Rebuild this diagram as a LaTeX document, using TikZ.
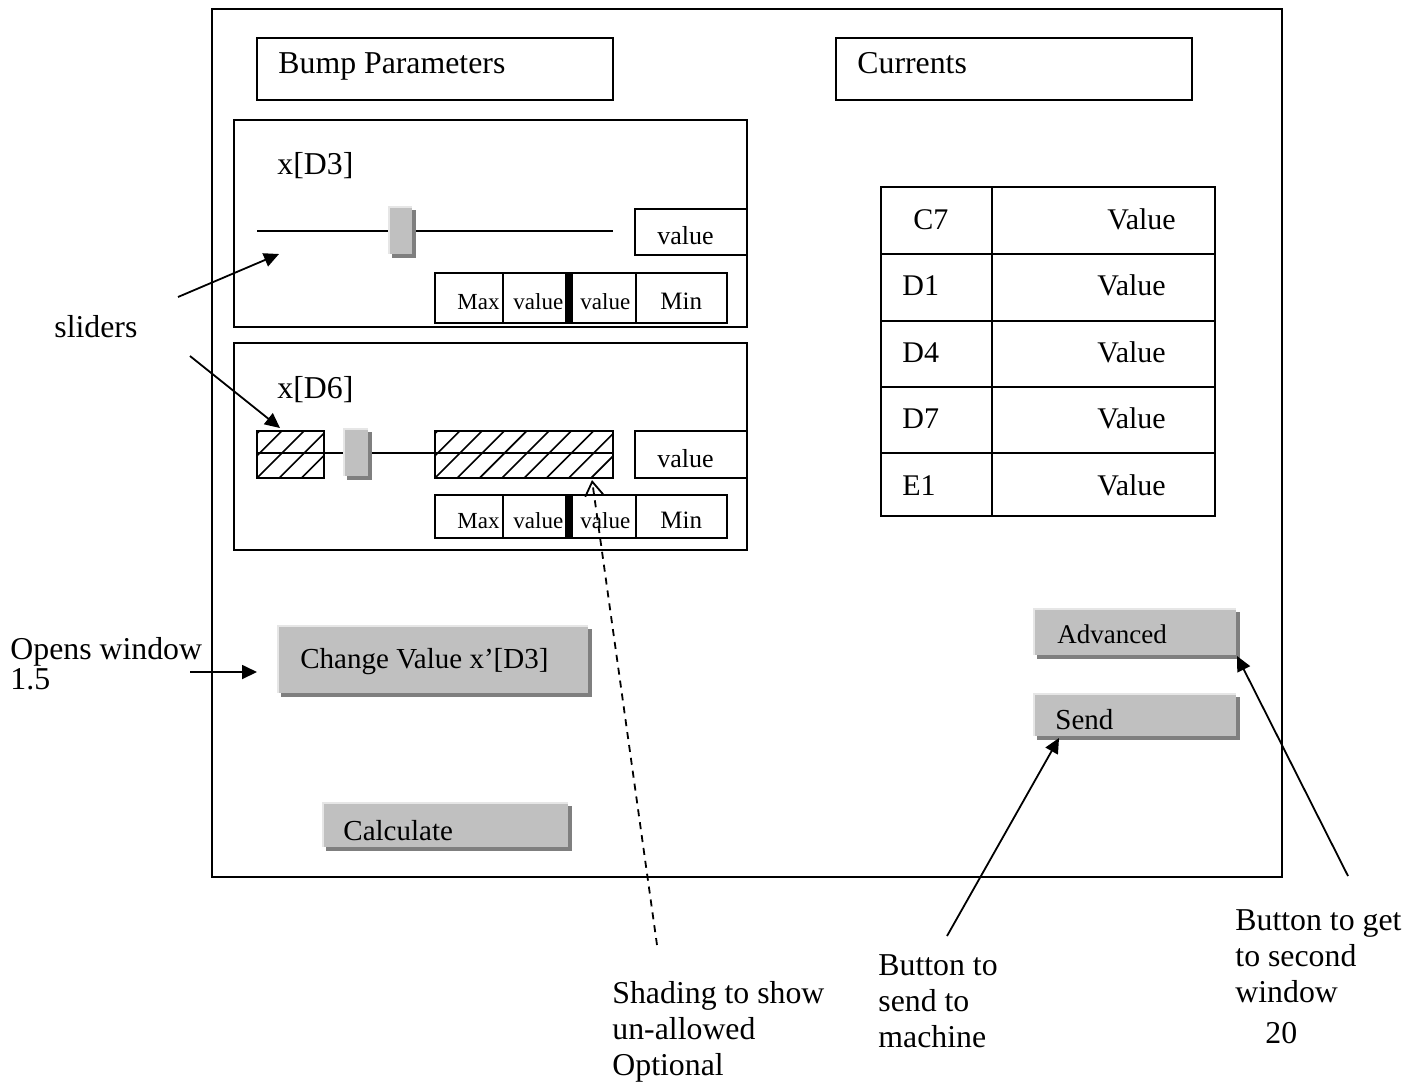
\documentclass[tikz,border=0pt]{standalone}
\usepackage{fontspec}
\setmainfont{Liberation Serif}
\usetikzlibrary{arrows.meta}

\definecolor{btnface}{HTML}{C0C0C0}
\definecolor{btnshadow}{HTML}{7F7F7F}
\definecolor{btnlight}{HTML}{E6E6E6}

% raised grey widget: light top-left edge, dark bottom-right shadow
\newcommand\raisedbox[4]{%
  \fill[btnshadow] ({#1+4},{#2+4}) rectangle (#3,#4);
  \fill[btnlight] (#1,#2) rectangle ({#3-4},{#4-4});
  \fill[btnface] ({#1+2},{#2+2}) rectangle ({#3-4},{#4-4});
}
% framed box filled with diagonal hatching
\newcommand\hatchbox[4]{%
  \begin{scope}
    \clip (#1,#2) rectangle (#3,#4);
    \foreach \k in {-3,...,9}
      \draw[hatchline] ({#1+\k*22.3},#4) -- ++(80,-80);
  \end{scope}
  \draw[frame] (#1,#2) rectangle (#3,#4);
}

\begin{document}
\begin{tikzpicture}[x=0.5pt,y=-0.5pt,
  frame/.style={draw=black, line width=1pt},
  track/.style={draw=black, line width=0.8pt},
  hatchline/.style={line width=0.8pt},
  lbl/.style={inner sep=0pt, anchor=base west, font=\fontsize{15.9}{18}\selectfont},
  note/.style={inner sep=0pt, anchor=north west, align=left, font=\fontsize{15.9}{18}\selectfont},
  cell/.style={inner sep=0pt, anchor=base west, font=\fontsize{15}{18}\selectfont},
  small/.style={inner sep=0pt, anchor=base west, font=\fontsize{11.5}{13}\selectfont},
  smallmin/.style={inner sep=0pt, anchor=base west, font=\fontsize{12.5}{14}\selectfont},
  valtxt/.style={inner sep=0pt, anchor=base west, font=\fontsize{13}{15}\selectfont},
  btntxt/.style={inner sep=0pt, anchor=base west, font=\fontsize{14.5}{17}\selectfont},
  pointer/.style={line width=0.9pt, -{Triangle[length=7.5pt,width=7pt]}},
  dashpointer/.style={line width=0.9pt, dash pattern=on 3.5pt off 3pt,
    -{Straight Barb[length=7pt,width=9pt]}},
]
\useasboundingbox (0,0) rectangle (1411,1082);

% window frame
\draw[frame] (212,9) rectangle (1282,877);

% title boxes
\draw[frame] (257,38) rectangle (613,100);
\node[lbl] (bumptitle) at (278,73) {Bump Parameters};
\draw[frame] (836,38) rectangle (1192,100);
\node[lbl] (currtitle) at (857,73) {Currents};

% ---- slider panel 1 ----
\draw[frame] (234,120) rectangle (747,327);
\node[lbl] (xd3) at (277,174) {x[D3]};
\draw[track] (257,231) -- (613,231);
\raisedbox{388}{206}{416}{258}
\draw[frame] (635,209) rectangle (747,255);
\node[valtxt] (val1) at (657,244) {value};
\draw[frame] (435,273) rectangle (727,323);
\draw[frame] (503,273) -- (503,323);
\draw[frame] (636,273) -- (636,323);
\fill[black] (565,273) rectangle (573,323);
\node[small] (max1) at (457,309) {Max};
\node[small] (lo1) at (513,309) {value};
\node[small] (hi1) at (580,309) {value};
\node[smallmin] (min1) at (660,309) {Min};

% ---- slider panel 2 ----
\draw[frame] (234,343) rectangle (747,550);
\node[lbl] (xd6) at (277,398) {x[D6]};
\hatchbox{257}{431}{324}{478}
\hatchbox{435}{431}{613}{478}
\draw[track] (257,453) -- (613,453);
\raisedbox{343}{428}{372}{480}
\draw[frame] (635,431) rectangle (747,478);
\node[valtxt] (val2) at (657,467) {value};
\draw[frame] (435,495) rectangle (727,538);
\draw[frame] (503,495) -- (503,538);
\draw[frame] (636,495) -- (636,538);
\fill[black] (565,495) rectangle (573,538);
\node[small] (max2) at (457,528) {Max};
\node[small] (lo2) at (513,528) {value};
\node[small] (hi2) at (580,528) {value};
\node[smallmin] (min2) at (660,528) {Min};

% ---- currents table ----
\draw[frame] (881,187) rectangle (1215,516);
\draw[frame] (992,187) -- (992,516);
\foreach \y in {254,321,387,453} \draw[frame] (881,\y) -- (1215,\y);
\node[cell] (c7) at (913,229) {C7};
\node[cell] (c7v) at (1107,229) {Value};
\node[cell] (d1) at (902,295) {D1};
\node[cell] (d1v) at (1097,295) {Value};
\node[cell] (d4) at (902,362) {D4};
\node[cell] (d4v) at (1097,362) {Value};
\node[cell] (d7) at (902,428) {D7};
\node[cell] (d7v) at (1097,428) {Value};
\node[cell] (e1) at (902,495) {E1};
\node[cell] (e1v) at (1097,495) {Value};

% ---- buttons ----
\raisedbox{277}{625}{592}{697}
\node[btntxt] (changebtn) at (300,668) {Change Value x’[D3]};
\raisedbox{322}{802}{572}{851}
\node[btntxt] (calcbtn) at (343,840) {Calculate};
\raisedbox{1033}{608}{1240}{659}
\node[btntxt, font=\fontsize{13.5}{16}\selectfont] (advbtn) at (1057,643) {Advanced};
\raisedbox{1033}{693}{1240}{740}
\node[btntxt] (sendbtn) at (1055,729) {Send};

% ---- annotations ----
\node[lbl] (sliders) at (54,337) {sliders};
\node[note, font=\fontsize{15.9}{13.5}\selectfont] (opens) at (10,637) {Opens window\\1.5};
\node[note] (shading) at (612,981) {Shading to show\\un-allowed\\Optional};
\node[note] (sendnote) at (878,954) {Button to\\send to\\machine};
\node[note] (advnote) at (1235,909) {Button to get\\to second\\window};
\node[lbl] (pageno) at (1265,1043) {20};

\coordinate (sl1from) at (178,297);
\coordinate (sl1to) at (279,254);
\coordinate (sl2from) at (190,356);
\coordinate (sl2to) at (280,428);
\coordinate (opfrom) at (190,672);
\coordinate (opto) at (257,672);
\coordinate (shfrom) at (657,945);
\coordinate (shto) at (592,480);
\coordinate (sdfrom) at (947,936);
\coordinate (sdto) at (1059,738);
\coordinate (adfrom) at (1348,876);
\coordinate (adto) at (1237,656);

\draw[pointer] (sl1from) -- (sl1to);
\draw[pointer] (sl2from) -- (sl2to);
\draw[pointer] (opfrom) -- (opto);
\draw[dashpointer] (shfrom) -- (shto);
\draw[pointer] (sdfrom) -- (sdto);
\draw[pointer] (adfrom) -- (adto);
\end{tikzpicture}
\end{document}
